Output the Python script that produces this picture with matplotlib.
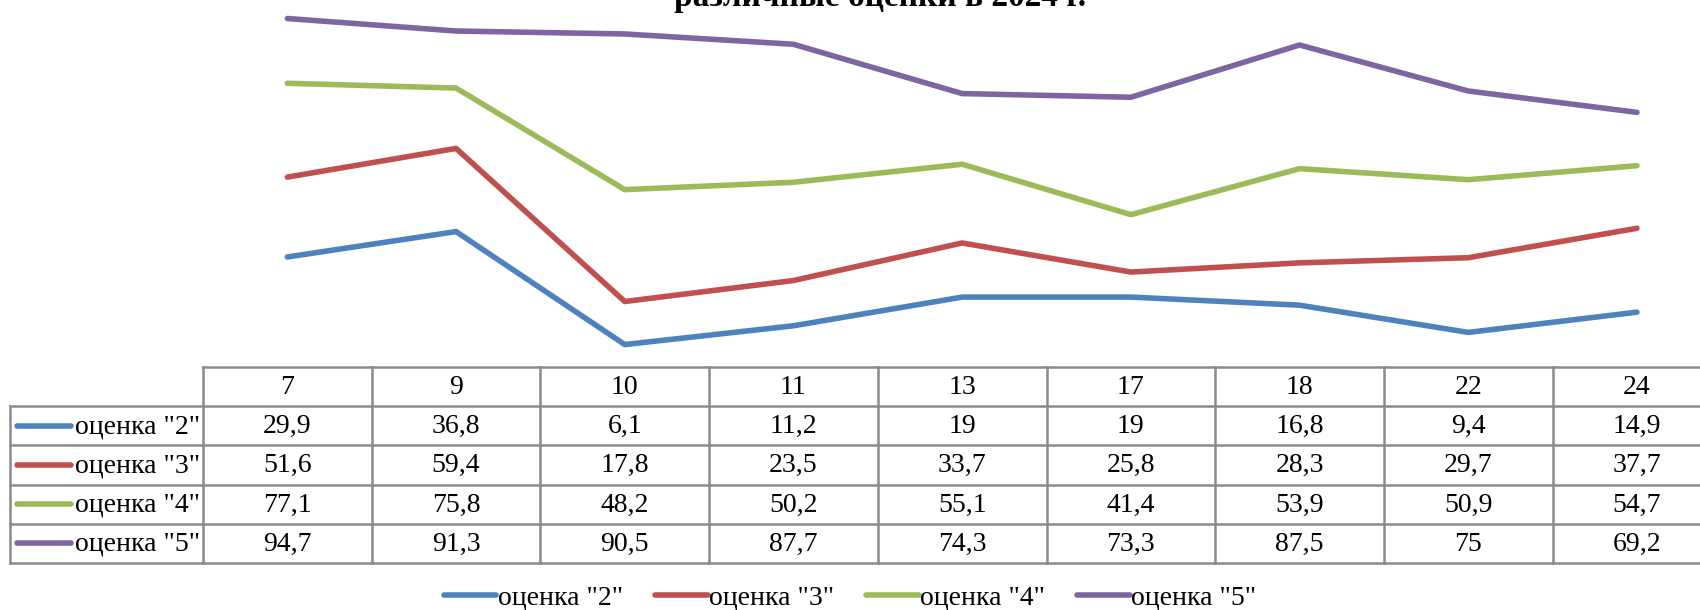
import matplotlib
matplotlib.use("Agg")
import matplotlib.pyplot as plt
from matplotlib.lines import Line2D

plt.rcParams["font.family"] = ["Liberation Serif", "DejaVu Serif"]

# data
categories = ["7", "9", "10", "11", "13", "17", "18", "22", "24"]
series_names = ['оценка "2"', 'оценка "3"', 'оценка "4"', 'оценка "5"']
grade2 = [29.9, 36.8, 6.1, 11.2, 19, 19, 16.8, 9.4, 14.9]
grade3 = [51.6, 59.4, 17.8, 23.5, 33.7, 25.8, 28.3, 29.7, 37.7]
grade4 = [77.1, 75.8, 48.2, 50.2, 55.1, 41.4, 53.9, 50.9, 54.7]
grade5 = [94.7, 91.3, 90.5, 87.7, 74.3, 73.3, 87.5, 75, 69.2]
colors = ["#4F81BD", "#C0504D", "#9BBB59", "#8064A2"]
title_line = "различные оценки в 2024 г."


def fmt(v):
    return f"{v:g}".replace(".", ",")


W, H = 1700, 610
fig = plt.figure(figsize=(W / 100, H / 100), dpi=100)

x0 = 203          # left edge of the table grid (px)
col_w = 168.7     # width of one category column (px)
y_zero = 367      # pixel row of value 0 / top of the table
row_h = 39.2
n = len(categories)
xs = list(range(n))
lw = 4.0

# line chart
ax = fig.add_axes([x0 / W, 1 - y_zero / H, n * col_w / W, (y_zero + 1) / H])
for vals, c in zip([grade2, grade3, grade4, grade5], colors):
    ax.plot(xs, vals, color=c, lw=lw, solid_capstyle="round")
ax.set_xlim(-0.5, n - 0.5)
ax.set_ylim(0, 100)
ax.axis("off")

# data table
tab = fig.add_axes([x0 / W, 1 - (y_zero + 5 * row_h) / H, n * col_w / W, 5 * row_h / H])
tab.set_xlim(-0.5, n - 0.5)
tab.set_ylim(5, 0)
tab.axis("off")

grid_kw = dict(color="#8a8a8a", lw=1.8, clip_on=False, solid_capstyle="projecting")
x_left = -0.5 - (x0 - 10) / col_w
for i in range(n + 1):
    tab.plot([i - 0.5, i - 0.5], [0, 5], **grid_kw)
tab.plot([x_left, x_left], [1, 5], **grid_kw)
tab.plot([-0.5, n - 0.5], [0, 0], **grid_kw)
for r in range(1, 6):
    tab.plot([x_left, n - 0.5], [r, r], **grid_kw)

fs = 20
for i, cat in enumerate(categories):
    tab.text(i, 0.52, cat, ha="center", va="center", fontsize=fs)

rows = [grade2, grade3, grade4, grade5]
for r, (name, vals, c) in enumerate(zip(series_names, rows, colors), start=1):
    h0 = -0.5 - (x0 - 17) / col_w
    h1 = -0.5 - (x0 - 71) / col_w
    tab.plot([h0, h1], [r + 0.5, r + 0.5], color=c, lw=lw,
             solid_capstyle="round", clip_on=False)
    tab.text(-0.5 - (x0 - 75) / col_w, r + 0.52, name, ha="left", va="center",
             fontsize=fs, clip_on=False)
    for i, v in enumerate(vals):
        tab.text(i, r + 0.52, fmt(v), ha="center", va="center", fontsize=fs)

# title (only its last line falls inside the picture)
fig.text(880 / W, 1 - 6 / H, title_line, ha="center", va="baseline",
         fontsize=24, fontweight="bold")

# legend
handles = [Line2D([], [], color=c, lw=lw, solid_capstyle="round") for c in colors]
fig.legend(handles, series_names, loc="center", bbox_to_anchor=(0.5, 1 - 598 / H),
           ncol=4, frameon=False, fontsize=fs, handlelength=1.9,
           handletextpad=0.05, columnspacing=1.15, borderaxespad=0, borderpad=0)

fig.savefig("out.png", dpi=100)
